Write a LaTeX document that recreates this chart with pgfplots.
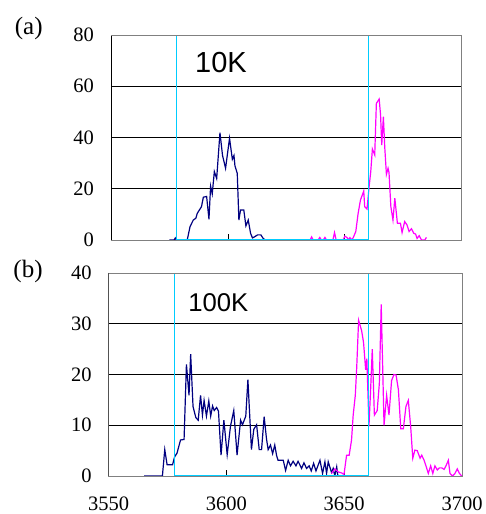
\documentclass[border=0pt]{standalone}
\usepackage{fontspec}
\setmainfont{Liberation Serif}
\newfontfamily\arialfont{Liberation Sans}
\usepackage{pgfplots}
\pgfplotsset{compat=1.18}
\definecolor{navyc}{HTML}{000080}
\definecolor{magc}{HTML}{FF00FF}
\definecolor{cyanc}{HTML}{00CCFF}
\pgfplotsset{
  panel/.style={
    scale only axis,
    xmin=3550, xmax=3700,
    xtick={3550,3600,3650,3700},
    tick align=inside,
    major tick length=6pt,
    xtick pos=left, ytick pos=left,
    tick style={black, line width=0.8pt},
    ymajorgrids,
    grid style={black, line width=0.8pt},
    axis line style={gray, line width=0.8pt},
    /pgf/number format/assume math mode=true,
    /pgf/number format/1000 sep={},
    yticklabel style={font=\fontsize{20.5}{20.5}\selectfont, inner sep=0pt, xshift=-17pt},
    xticklabel style={font=\fontsize{20.5}{20.5}\selectfont, inner sep=0pt, yshift=-20.5pt},
  },
  navyline/.style={navyc, line width=1.2pt, mark=none},
  magline/.style={magc, line width=1.2pt, mark=none},
  cyanline/.style={cyanc, line width=1.5pt, mark=none},
}
\begin{document}
\begin{tikzpicture}
\path[use as bounding box] (0pt,0pt) rectangle (485pt,514pt);

% (a) 10K
\begin{axis}[panel, at={(111pt,274pt)}, anchor=south west,
  width=350.7pt, height=205pt, ymin=0, ymax=80, ytick={0,20,40,60,80},
  xticklabels={}]
\draw[black, line width=0.8pt] (rel axis cs:0,1) -- (rel axis cs:0,0) -- (rel axis cs:1,0);
\addplot[navyline] coordinates {
(3575,0)(3577,0)(3577.5,0.8)(3578,0)(3582.6,0)(3583.8,5.2)(3585.2,7.8)(3586.3,8.5)(3586.9,10.4)(3588.7,13)(3589.5,16.7)(3590.9,17)(3591.9,8.1)(3592.6,21)(3593.3,18)(3594.2,26.7)(3595.2,24)(3596.6,41.9)(3597.7,33)(3599,28)(3600.7,39.7)(3601.9,31.5)(3602.6,33)(3603,29)(3604,26)(3604.7,7.8)(3605.4,11.7)(3606.8,11.7)(3607.7,5.5)(3608.7,7.8)(3609.7,2.6)(3610.5,0.8)(3611.5,1.3)(3612.7,2)(3614.1,2)(3615.1,0.6)(3616,0)(3618,0)
};
\addplot[magline] coordinates {
(3634,0)(3635.2,0)(3635.8,1.2)(3636.5,0)(3638.6,0)(3639.3,1.0)(3640,0)(3640.8,0)(3641.5,1.0)(3642.2,0)(3644.9,0)(3645.6,2.9)(3646.3,0)(3649.3,0)(3650,1.5)(3651,0.9)(3651.7,0)(3652.2,0.9)(3652.9,0)(3653.6,0.9)(3654.7,3.3)(3655.7,10.4)(3656.7,15.6)(3658.1,19.1)(3658.5,13)(3659.5,12.1)(3660.4,20.8)(3661.1,26.7)(3661.8,35.5)(3662.8,33.2)(3663.5,53.3)(3664.7,55)(3665.3,48.8)(3665.8,37)(3666.5,48.1)(3667.1,36)(3667.8,25.6)(3668.5,28)(3668.9,26.4)(3669.7,13)(3670.6,7.8)(3671.4,16.3)(3672.5,6.5)(3673.8,6.5)(3674.5,2.9)(3675.6,7.2)(3676.6,5.9)(3677.5,3.3)(3678.5,4.4)(3679.5,2.6)(3680.3,2.3)(3680.9,0.6)(3681.8,1.7)(3682.8,0)(3684.2,0)(3684.9,1)
};
\addplot[cyanline] coordinates {(3578,80)(3578,0)(3660.2,0)(3660.2,80)};
\draw[gray, line width=0.8pt] (rel axis cs:0,1) -- (rel axis cs:1,1) -- (rel axis cs:1,0);
\end{axis}

% (b) 100K
\begin{axis}[panel, at={(108.7pt,38pt)}, anchor=south west,
  width=353.3pt, height=203pt, ymin=0, ymax=40, ytick={0,10,20,30,40}]
\draw[black, line width=0.8pt] (rel axis cs:0,1) -- (rel axis cs:0,0) -- (rel axis cs:1,0);
\addplot[navyline] coordinates {
(3565,0)(3572.8,0)(3573.8,5.2)(3574.8,2.2)(3577.1,2.2)(3578,3.8)(3579,4.5)(3580.5,7.1)(3582,7.2)(3583,22)(3584.1,15.9)(3584.8,24)(3585.8,13.7)(3587,11.5)(3588,11)(3589,15.9)(3589.8,12)(3590.5,14.9)(3591.5,11.8)(3592.5,14.8)(3593.3,11.8)(3594.1,13.8)(3594.8,12.9)(3595.8,13.5)(3596.6,12.8)(3597.7,4.1)(3598.9,11)(3600.3,4.2)(3601.7,9.8)(3603.1,12.9)(3604.5,4.1)(3606,11)(3606.8,10.1)(3608.2,11.8)(3609.1,19)(3610.6,5.2)(3611.6,9.2)(3612.8,10.1)(3613.9,5.2)(3614.9,5.2)(3616,11.7)(3617,7.3)(3617.7,5.2)(3618.7,6.1)(3619.6,4.4)(3620.5,6.1)(3621.3,4)(3621.9,3.1)(3624.1,3.1)(3625.1,1.1)(3626.2,3.1)(3627.2,2)(3628.3,2.9)(3629.5,2)(3630.4,2.9)(3631.9,1.5)(3632.9,2.6)(3634,1.5)(3635.1,2)(3636,1)(3637,2.5)(3638,1)(3639.7,3.1)(3640.8,0.5)(3641.8,2.8)(3642.5,0.5)(3643.2,2.8)(3644.6,0.7)(3645.3,1.5)(3646,0)(3646.8,1.8)(3647.3,0)
};
\addplot[magline] coordinates {
(3644.6,0.5)(3646,1.4)(3647.5,0.8)(3648.9,0.6)(3649.9,0.3)(3651,4.1)(3652.1,4.1)(3653.1,7.1)(3653.8,12)(3654.7,15.9)(3655.3,21.4)(3656.1,30.7)(3657.4,28.6)(3658.2,26.3)(3659.1,20.9)(3659.6,23.1)(3660.5,9.8)(3661.2,17)(3661.9,25)(3662.8,12)(3664,12.9)(3664.9,18.2)(3665.7,33.8)(3666.9,10)(3668,15.9)(3669,12)(3670.1,18.8)(3671.1,20)(3672,19.9)(3673,17)(3674,9.3)(3675.1,9.3)(3676.2,13.7)(3677.2,14.9)(3678.2,9.8)(3679.1,3.5)(3680,5.1)(3681,5)(3682.2,3.5)(3682.9,4.1)(3683.9,3.1)(3684.7,2)(3685.7,0.5)(3686.7,2)(3687.6,0.5)(3688.5,2)(3689.5,1.2)(3690.4,1.6)(3691.4,1.6)(3692.4,1.3)(3693.2,2)(3694.2,3.1)(3694.9,0.5)(3696,0)(3697,0.5)(3698,1.4)(3698.9,0.5)(3699.9,0)
};
\addplot[cyanline] coordinates {(3578,40)(3578,0)(3660.4,0)(3660.4,40)};
\draw[gray, line width=0.8pt] (rel axis cs:0,1) -- (rel axis cs:1,1) -- (rel axis cs:1,0);
\end{axis}

\node[font=\fontsize{25}{25}\selectfont] at (28.7pt,486pt) {(a)};
\node[font=\fontsize{25}{25}\selectfont] at (28pt,243pt) {(b)};
\node[font=\arialfont\fontsize{29}{29}\selectfont] at (221pt,451.2pt) {10K};
\node[font=\arialfont\fontsize{25.7}{25.7}\selectfont] at (218.3pt,211.5pt) {100K};
\end{tikzpicture}
\end{document}
